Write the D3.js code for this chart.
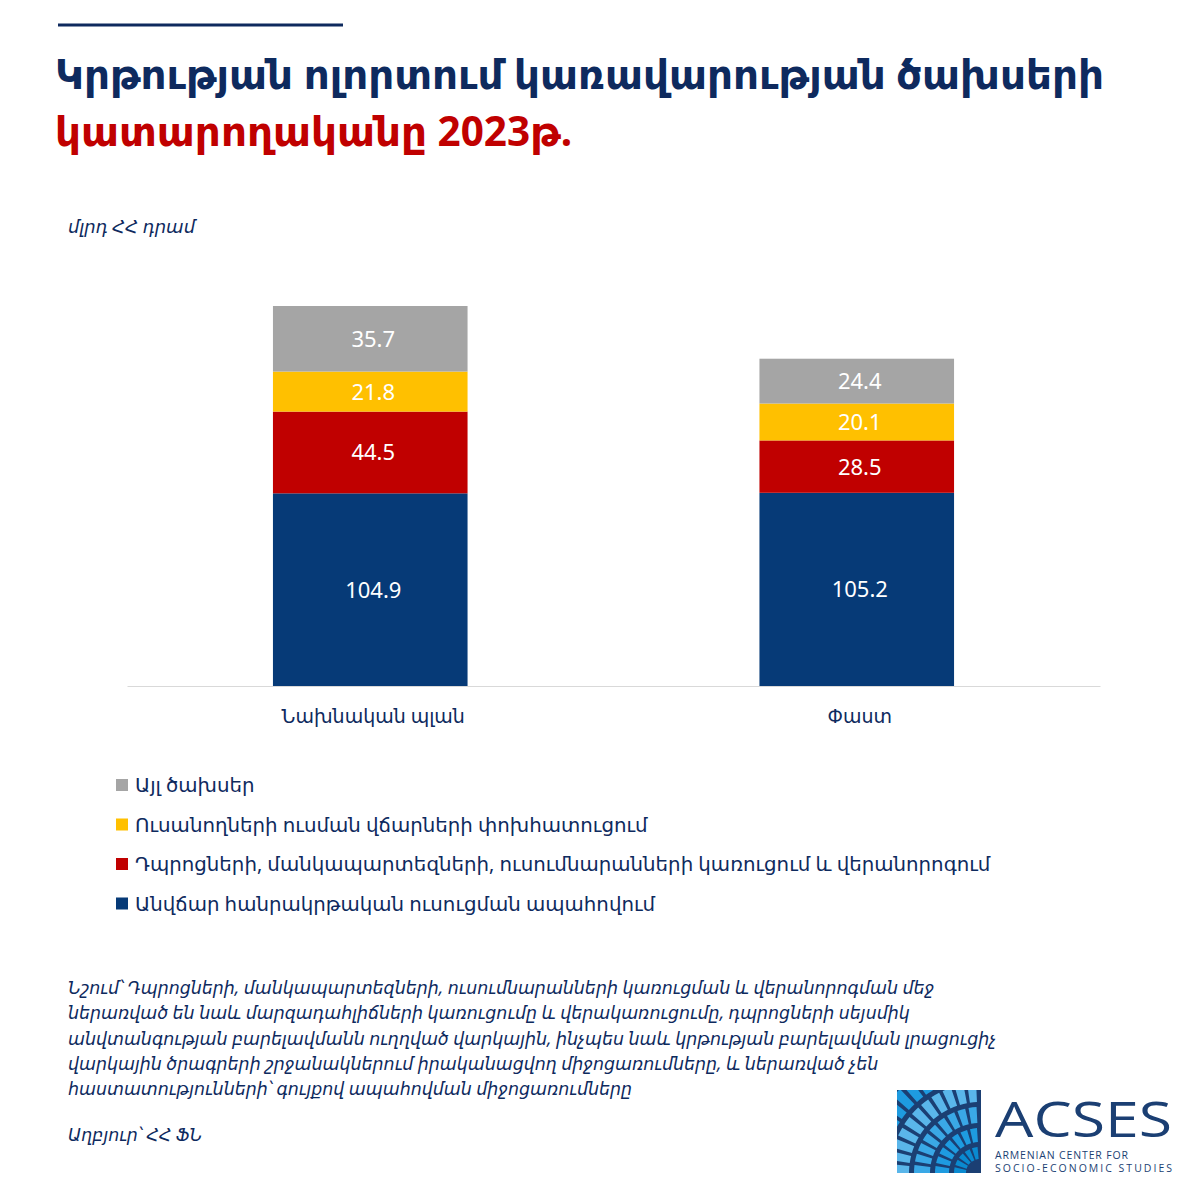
<!DOCTYPE html>
<html><head><meta charset="utf-8">
<script src="https://cdn.jsdelivr.net/npm/d3@7"></script>
<style>body{margin:0;background:#fff}</style></head>
<body><svg id="c" width="1200" height="1200"></svg>
<script>
const categories = ["Նախնական պլան", "Փաստ"];
const seriesNames = ["Անվճար հանրակրթական ուսուցման ապահովում",
  "Դպրոցների, մանկապարտեզների, ուսումնարանների կառուցում և վերանորոգում",
  "Ուսանողների ուսման վճարների փոխհատուցում",
  "Այլ ծախսեր"];
const s1 = [104.9, 105.2];
const s2 = [44.5, 28.5];
const s3 = [21.8, 20.1];
const s4 = [35.7, 24.4];
const colors = ["#063A77", "#C00000", "#FFC000", "#A5A5A5"];
const F = "'Noto Sans','DejaVu Sans',sans-serif";
const svg = d3.select("#c");
svg.append("line").attr("x1",58).attr("x2",343).attr("y1",25).attr("y2",25).attr("stroke","#0E2A5E").attr("stroke-width",3);
svg.append("text").attr("x",55).attr("y",89).attr("font-family",F).attr("font-weight","bold").attr("font-size",40.5).attr("fill","#0E2A5E").text("Կրթության ոլորտում կառավարության ծախսերի");
svg.append("text").attr("x",55).attr("y",146).attr("font-family",F).attr("font-weight","bold").attr("font-size",40.5).attr("fill","#C00000").text("կատարողականը 2023թ.");
svg.append("text").attr("x",68).attr("y",233).attr("font-family",F).attr("font-style","italic").attr("font-size",18).attr("fill","#0E2A5E").text("մլրդ ՀՀ դրամ");

const data = categories.map((c,i)=>({cat:c, v:[s1[i],s2[i],s3[i],s4[i]]}));
const x = d3.scaleBand().domain(categories).range([127,1100]).paddingInner(0.6).paddingOuter(0.3);
const y = d3.scaleLinear().domain([0,206.9]).range([686,306]);
data.forEach(d=>{
  let acc=0;
  d.v.forEach((v,k)=>{
    const y0=y(acc), y1=y(acc+v); acc+=v;
    svg.append("rect").attr("x",x(d.cat)).attr("width",x.bandwidth()).attr("y",y1).attr("height",y0-y1).attr("fill",colors[k]);
    svg.append("text").attr("x",x(d.cat)+x.bandwidth()/2+3).attr("y",(y0+y1)/2+8).attr("text-anchor","middle")
      .attr("font-family",F).attr("font-size",22).attr("fill","#fff").text(v.toFixed(1));
  });
});
const ax = svg.append("g").attr("transform","translate(0,686)").call(d3.axisBottom(x).tickSize(0).tickPadding(24));
ax.select(".domain").attr("stroke","#D9D9D9");
ax.selectAll("text").attr("font-family",F).attr("font-size",19).attr("fill","#0E2A5E").attr("dx",3);

const leg = [3,2,1,0];
leg.forEach((k,i)=>{
  const yy = 785 + i*39.5;
  svg.append("rect").attr("x",116).attr("y",yy-6).attr("width",12).attr("height",12).attr("fill",colors[k]);
  svg.append("text").attr("x",135).attr("y",yy+7).attr("font-family",F).attr("font-size",19.8).attr("fill","#0E2A5E").text(seriesNames[k]);
});
const note = ["Նշում՝ Դպրոցների, մանկապարտեզների, ուսումնարանների  կառուցման և վերանորոգման մեջ",
"ներառված են նաև մարզադահլիճների կառուցումը և վերակառուցումը, դպրոցների սեյսմիկ",
"անվտանգության բարելավմանն ուղղված վարկային, ինչպես նաև կրթության բարելավման լրացուցիչ",
"վարկային ծրագրերի շրջանակներում իրականացվող միջոցառումները, և ներառված չեն",
"հաստատությունների՝ գույքով ապահովման միջոցառումները"];
note.forEach((t,i)=>svg.append("text").attr("x",68).attr("y",994+i*25.3).attr("font-family",F).attr("font-style","italic").attr("font-size",17.4).attr("fill","#0E2A5E").text(t));
svg.append("text").attr("x",68).attr("y",1141).attr("font-family",F).attr("font-style","italic").attr("font-size",17.4).attr("fill","#0E2A5E").text("Աղբյուր՝ ՀՀ ՖՆ");

// logo
svg.append("clipPath").attr("id","lc").append("rect").attr("x",897).attr("y",1090).attr("width",84).attr("height",83);
const lg = svg.append("g").attr("clip-path","url(#lc)");
lg.append("rect").attr("x",897).attr("y",1090).attr("width",84).attr("height",83).attr("fill","#1B3F73");
const arc = d3.arc();
const cx=980, cy=1173;
[[14,26,"#0A8AD0"],[31,45,"#1E9BE0"],[50,66,"#3AA8E6"],[71,90,"#5AB6EA"],[95,116,"#1E9BE0"]].forEach(([r0,r1,c],j)=>{
  const n=5+j*2;
  for(let i=0;i<n;i++){
    const a0=-Math.PI/2+i*(Math.PI/2)/n, a1=a0+(Math.PI/2)/n*0.7;
    lg.append("path").attr("transform",`translate(${cx},${cy})`).attr("d",arc({innerRadius:r0,outerRadius:r1,startAngle:a0,endAngle:a1})).attr("fill",c);
  }
});
svg.append("text").attr("x",995).attr("y",1137).attr("font-family","'Open Sans',sans-serif").attr("font-size",49).attr("textLength",177).attr("lengthAdjust","spacingAndGlyphs").attr("fill","#1B3F73").text("ACSES");
svg.append("text").attr("x",995).attr("y",1159).attr("font-family","'Open Sans',sans-serif").attr("font-size",10.5).attr("textLength",133).attr("fill","#1B3F73").text("ARMENIAN CENTER FOR");
svg.append("text").attr("x",995).attr("y",1172).attr("font-family","'Open Sans',sans-serif").attr("font-size",10.5).attr("textLength",177).attr("fill","#1B3F73").text("SOCIO-ECONOMIC STUDIES");
</script></body></html>
